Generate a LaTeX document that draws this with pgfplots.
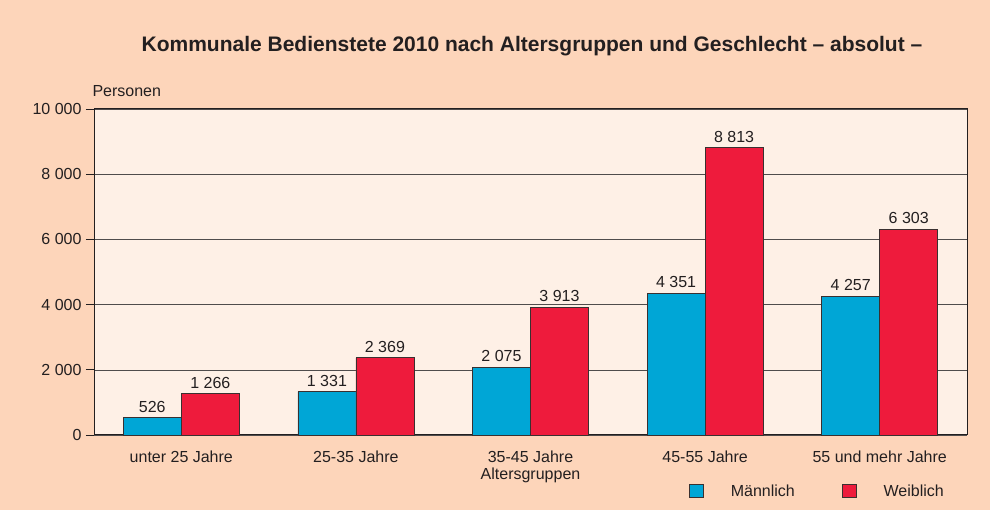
\documentclass[border=0pt]{standalone}
\usepackage{pgfplots}
\pgfplotsset{compat=1.18}
\usepackage{fontspec}
\setmainfont{Liberation Sans}
\definecolor{peach}{HTML}{FDD5BA}
\definecolor{plotbg}{HTML}{FEF0E6}
\definecolor{mblue}{HTML}{00A6D6}
\definecolor{wred}{HTML}{EE1B3C}
\definecolor{txt}{HTML}{231F20}
\definecolor{edge}{HTML}{3A3030}
\begin{document}
\begin{tikzpicture}[x=1pt,y=1pt]
\fill[peach] (0,0) rectangle (990,510);
\node[font=\fontsize{21}{24}\selectfont\bfseries, text=txt] at (532,464) {Kommunale Bedienstete 2010 nach Altersgruppen und Geschlecht – absolut –};
\begin{axis}[
  at={(94pt,75pt)}, anchor=south west,
  scale only axis, width=873pt, height=326pt,
  axis background/.style={fill=plotbg},
  axis line style={txt, line width=1pt},
  ybar, bar width=58pt, ybar=0pt,
  xmin=-0.5, xmax=4.5, ymin=0, ymax=10000,
  xtick={0,1,2,3,4},
  xticklabels={unter 25 Jahre,25-35 Jahre,35-45 Jahre,45-55 Jahre,55 und mehr Jahre},
  major x tick style={draw=none},
  ytick={0,2000,4000,6000,8000,10000},
  ytick pos=left,
  ytick style={txt, line width=0.8pt},
  tick align=outside, major tick length=8pt,
  ymajorgrids, grid style={txt!80, line width=0.5pt},
  yticklabel style={/pgf/number format/1000 sep={\ }, /pgf/number format/assume math mode=true, font=\fontsize{16}{18}\selectfont, text=txt, xshift=-1pt},
  xticklabel style={font=\fontsize{16}{18}\selectfont, text=txt, yshift=-4pt},
  scaled y ticks=false,
  nodes near coords,
  nodes near coords style={font=\fontsize{16}{18}\selectfont, text=txt, /pgf/number format/1000 sep={\ }, /pgf/number format/assume math mode=true, inner sep=5pt},
  xlabel={Altersgruppen},
  xlabel style={at={(axis description cs:0.5,-0.1227)}, anchor=center, font=\fontsize{16}{18}\selectfont, text=txt},
  legend style={at={(axis description cs:0.6816,-0.1718)}, anchor=west, draw=none, fill=none, inner sep=0pt, outer sep=0pt,
    nodes={inner sep=0pt, font=\fontsize{16}{18}\selectfont, text=txt},
    /tikz/every odd column/.style={column sep=27pt},
    /tikz/every even column/.style={column sep=47pt}},
  legend columns=2,
  legend image code/.code={\draw[#1] (0pt,-6.5pt) rectangle (14pt,6.5pt);},
  clip=false,
]
\addplot[fill=mblue, draw=edge, line width=0.8pt] coordinates {(0,526) (1,1331) (2,2075) (3,4351) (4,4257)};
\addplot[fill=wred, draw=edge, line width=0.8pt] coordinates {(0,1266) (1,2369) (2,3913) (3,8813) (4,6303)};
\legend{Männlich,Weiblich}
\end{axis}
\node[anchor=south west, font=\fontsize{16}{18}\selectfont, text=txt] at (89,410) {Personen};
\end{tikzpicture}
\end{document}
